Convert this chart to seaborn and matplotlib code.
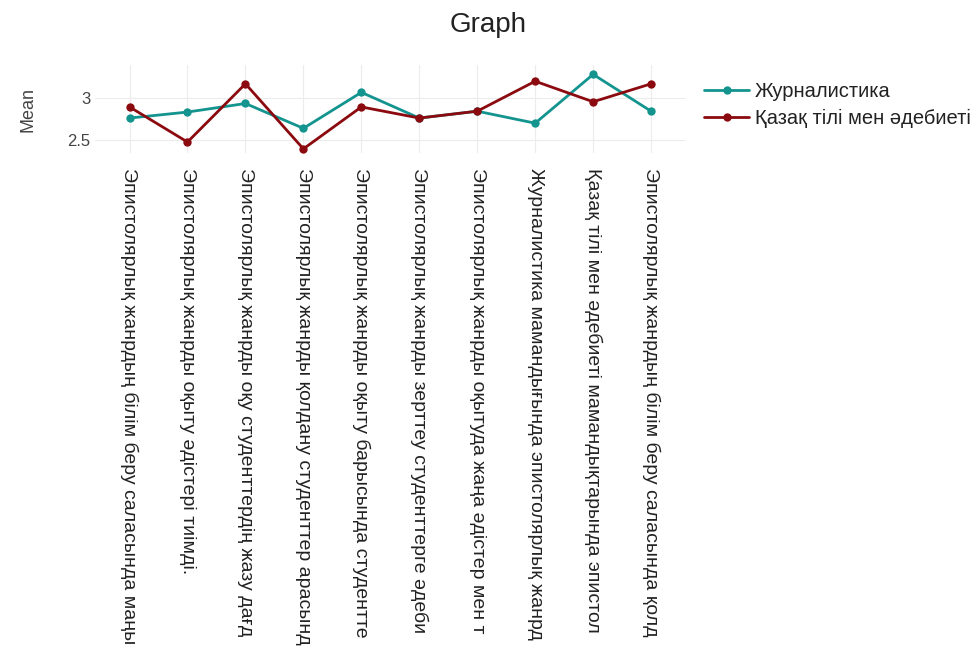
import matplotlib
matplotlib.use("Agg")
import matplotlib.pyplot as plt
import seaborn as sns
import pandas as pd

# tick labels as far as they are visible in the reference (cut at the image edge)
categories = [
    "Эпистолярлық жанрдың білім беру саласында маңы",
    "Эпистолярлық жанрды оқыту әдістері тиімді.",
    "Эпистолярлық жанрды оқу студенттердің жазу дағд",
    "Эпистолярлық жанрды қолдану студенттер арасынд",
    "Эпистолярлық жанрды оқыту барысында студентте",
    "Эпистолярлық жанрды зерттеу студенттерге әдеби",
    "Эпистолярлық жанрды оқытуда жаңа әдістер мен т",
    "Журналистика мамандығында эпистолярлық жанрд",
    "Қазақ тілі мен әдебиеті мамандықтарында эпистол",
    "Эпистолярлық жанрдың білім беру саласында қолд",
]
series_names = ["Журналистика", "Қазақ тілі мен әдебиеті"]
journalism = [2.76, 2.83, 2.93, 2.64, 3.06, 2.76, 2.84, 2.70, 3.27, 2.84]
kazakh = [2.89, 2.48, 3.16, 2.40, 2.89, 2.76, 2.84, 3.19, 2.95, 3.16]
colors = ["#13948f", "#8b0a0f"]

df = pd.DataFrame({
    "x": list(range(len(categories))) * 2,
    "Mean": journalism + kazakh,
    "group": [series_names[0]] * len(categories) + [series_names[1]] * len(categories),
})

sns.set_style("whitegrid")
plt.rcParams["font.family"] = ["Liberation Sans", "DejaVu Sans"]

fig = plt.figure(figsize=(9.77, 6.63), dpi=100)
ax = fig.add_axes([0.097, 0.769, 0.605, 0.133])

sns.lineplot(data=df, x="x", y="Mean", hue="group", palette=colors,
             marker="o", markersize=6, markeredgewidth=0, linewidth=2,
             ax=ax, legend=True)

ax.set_xlim(-0.6, len(categories) - 1 + 0.6)
ax.set_ylim(2.35, 3.38)
ax.set_yticks([2.5, 3.0])
ax.set_yticklabels(["2.5", "3"], fontsize=12, color="#444444")
ax.set_xticks(range(len(categories)))
ax.set_xticklabels(categories, rotation=-90, ha="center", va="top",
                   fontsize=14, color="#222222", rotation_mode="default")
ax.tick_params(axis="x", pad=11, length=0)
ax.tick_params(axis="y", pad=3, length=0)
ax.set_xlabel("")
ax.set_ylabel("Mean", fontsize=13, color="#444444", labelpad=22)
for s in ax.spines.values():
    s.set_visible(False)
ax.grid(True, color="#ececec", linewidth=0.8)

leg = ax.legend(loc="upper left", bbox_to_anchor=(0.721, 0.876),
                bbox_transform=fig.transFigure, frameon=False,
                fontsize=14.5, handlelength=2.2, borderaxespad=0.0,
                borderpad=0.0, labelspacing=0.4, handletextpad=0.3)
for t in leg.get_texts():
    t.set_color("#222222")

fig.text(0.5, 0.962, "Graph", ha="center", va="center", fontsize=20, color="#222222")

fig.savefig("out.png", dpi=100)
